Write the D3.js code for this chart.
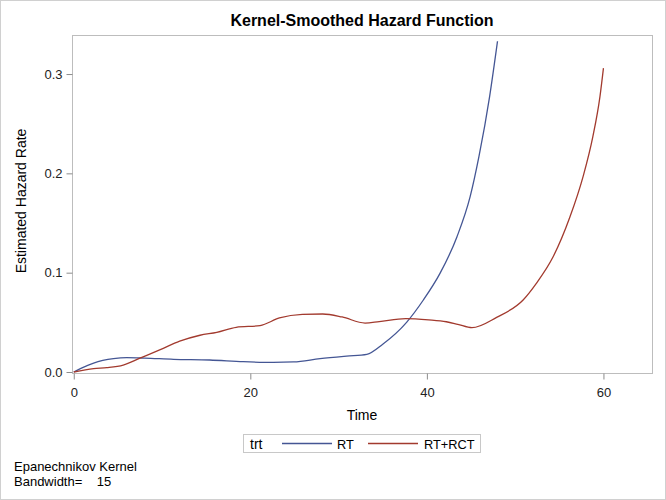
<!DOCTYPE html>
<html><head><meta charset="utf-8">
<script src="https://cdn.jsdelivr.net/npm/d3@7"></script>
<style>
html,body{margin:0;padding:0;background:#fff;}
svg{display:block;font-family:"Liberation Sans",Arial,sans-serif;}
</style></head>
<body><svg id="chart" width="666" height="500"></svg>
<script>
// ---- data ----
const rtTime = [0, 1, 2.25, 4.5, 6, 8, 11.3, 15.4, 19.2, 22.6, 24.9, 27.9, 30.9, 33.2, 35, 37.7, 39.6, 41.5, 43.4, 44.9, 45.9, 47.1, 48];
const rtHazard = [0, 0.0045, 0.009, 0.0134, 0.0144, 0.014, 0.0128, 0.0121, 0.0104, 0.0097, 0.0101, 0.0134, 0.016, 0.0178, 0.028, 0.05, 0.0725, 0.0995, 0.136, 0.1765, 0.217, 0.277, 0.333];
const rctTime = [0, 2.25, 3.75, 5.6, 7.5, 9.8, 12, 14.3, 16.2, 18.4, 21.1, 23.3, 25.9, 28.2, 30.4, 33, 34.6, 37.6, 40.2, 42.2, 43.5, 45.1, 47.9, 50.9, 52.4, 54.3, 56.2, 57.7, 58.8, 59.6, 60];
const rctHazard = [0, 0.0034, 0.0044, 0.007, 0.014, 0.0225, 0.031, 0.037, 0.040, 0.045, 0.0467, 0.0544, 0.058, 0.0584, 0.0554, 0.0493, 0.0508, 0.0538, 0.0525, 0.0506, 0.048, 0.0446, 0.055, 0.0725, 0.0893, 0.116, 0.156, 0.197, 0.237, 0.277, 0.306];
const seriesNames = ["RT", "RT+RCT"];
const xTicks = [0, 20, 40, 60];
const yTicks = [0.0, 0.1, 0.2, 0.3];
const titleText = "Kernel-Smoothed Hazard Function";
const xLabel = "Time";
const yLabel = "Estimated Hazard Rate";
const legendTitle = "trt";
const footLines = ["Epanechnikov Kernel", "Bandwidth=    15"];

const colors = ["#445694", "#A23A2E"];
const svg = d3.select("#chart");
const W = 666, H = 500;
const pL = 72, pR = 652, pT = 35, pB = 373;

svg.append("rect").attr("x",0.5).attr("y",0.5).attr("width",W-1).attr("height",H-1)
  .attr("fill","#fff").attr("stroke","#d0d0d0");

const x = d3.scaleLinear().domain([-0.2, 65.5]).range([pL, pR]);
const y = d3.scaleLinear().domain([-0.001, 0.3393]).range([pB, pT]);

// frame
svg.append("rect").attr("x",pL+0.5).attr("y",pT+0.5).attr("width",pR-pL).attr("height",pB-pT)
  .attr("fill","none").attr("stroke","#bdbdbd");

// axes
const xAxis = svg.append("g").attr("transform",`translate(0,${pB+0.5})`)
  .call(d3.axisBottom(x).tickValues(xTicks).tickFormat(d3.format("d")).tickSizeOuter(0).tickSize(6).tickPadding(8));
const yAxis = svg.append("g").attr("transform",`translate(${pL+0.5},0)`)
  .call(d3.axisLeft(y).tickValues(yTicks).tickFormat(d3.format(".1f")).tickSizeOuter(0).tickSize(6).tickPadding(4));
[xAxis,yAxis].forEach(g=>{
  g.select(".domain").remove();
  g.selectAll(".tick line").attr("stroke","#8c8c8c");
  g.selectAll(".tick text").attr("fill","#222").attr("font-size","13px")
   .attr("font-family","'Liberation Sans',Arial,sans-serif");
});

// lines
const line = d3.line().x(d=>x(d[0])).y(d=>y(d[1])).curve(d3.curveMonotoneX);
const rtData = d3.zip(rtTime, rtHazard);
const rctData = d3.zip(rctTime, rctHazard);
[rtData, rctData].forEach((dat,i)=>{
  svg.append("path").datum(dat).attr("d",line).attr("fill","none")
    .attr("stroke",colors[i]).attr("stroke-width",1.3);
});

// title
svg.append("text").attr("x",(pL+pR)/2).attr("y",26).attr("text-anchor","middle")
  .attr("font-size","16px").attr("font-weight","bold").attr("fill","#000").text(titleText);
// axis labels
svg.append("text").attr("x",(pL+pR)/2).attr("y",420).attr("text-anchor","middle")
  .attr("font-size","14px").attr("fill","#000").text(xLabel);
svg.append("text").attr("transform",`translate(26,201) rotate(-90)`).attr("text-anchor","middle")
  .attr("font-size","14px").attr("fill","#000").text(yLabel);

// legend
const lg = svg.append("g");
lg.append("rect").attr("x",243.5).attr("y",434.5).attr("width",237).attr("height",18)
  .attr("fill","#fff").attr("stroke","#c8c8c8");
lg.append("text").attr("x",250).attr("y",449).attr("font-size","14px").attr("fill","#000").text(legendTitle);
const legItems = [{x0:282,x1:332,tx:337},{x0:368,x1:418,tx:424}];
legItems.forEach((it,i)=>{
  lg.append("line").attr("x1",it.x0).attr("x2",it.x1).attr("y1",443.5).attr("y2",443.5)
    .attr("stroke",colors[i]).attr("stroke-width",1.3);
  lg.append("text").attr("x",it.tx).attr("y",448.5).attr("font-size","12.8px").attr("fill","#000").text(seriesNames[i]);
});

// footnote
footLines.forEach((t,i)=>{
  svg.append("text").attr("x",14).attr("y",471+i*14.8).attr("font-size","13px").attr("fill","#000")
    .style("white-space","pre").attr("xml:space","preserve").text(t);
});
</script></body></html>
